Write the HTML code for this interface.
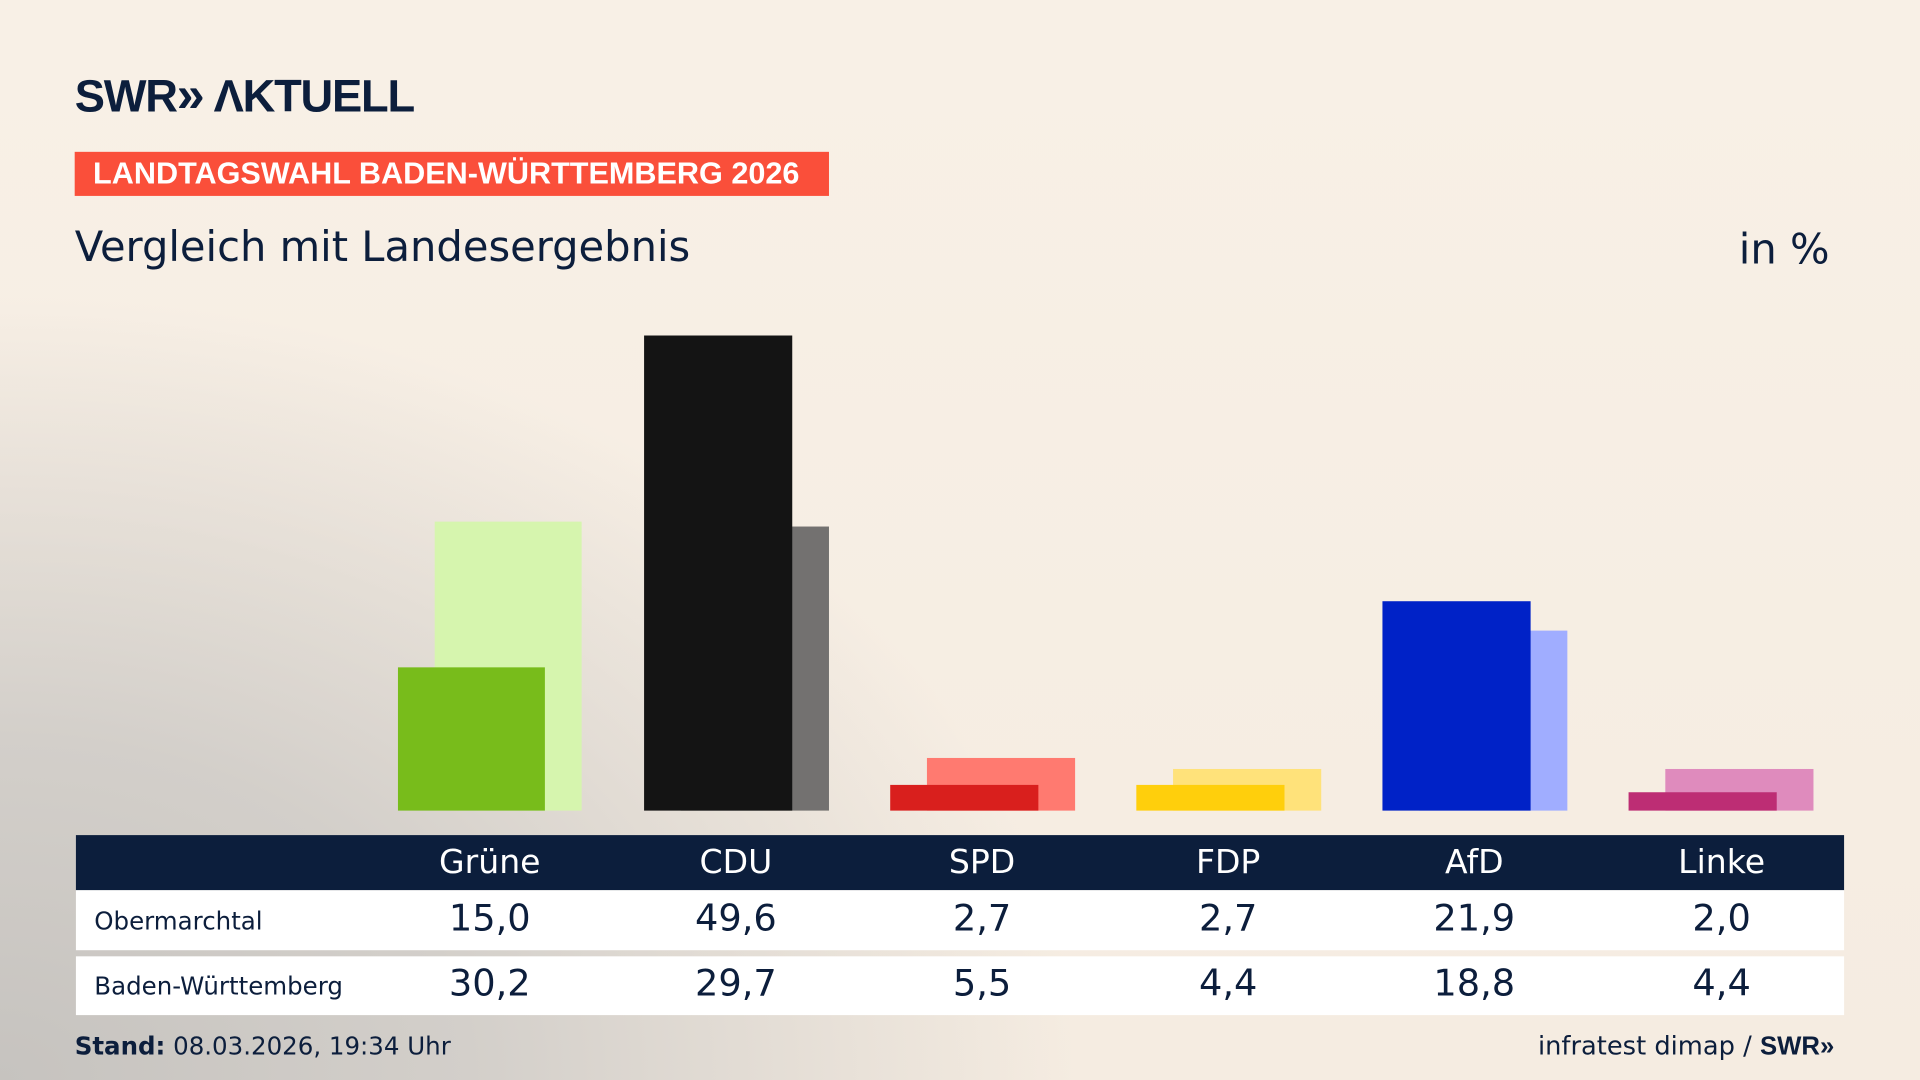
<!DOCTYPE html>
<html><head><meta charset="utf-8"><style>
html,body{margin:0;padding:0;width:1920px;height:1080px;overflow:hidden}
#s{position:absolute;left:0;top:0;width:1568px;height:882px;transform:scale(1.22449);transform-origin:0 0;
background:radial-gradient(ellipse 1100px 800px at 0% 100%,#c6c3bf 0%,#d3cfca 35%,rgba(240,232,222,0) 80%),linear-gradient(180deg,#f8f0e6 0%,#f5ece1 100%);
font-family:"DejaVu Sans","Liberation Sans",sans-serif;color:#0c1e3c;overflow:hidden}
.a{position:absolute}
.b{position:absolute;bottom:220px}
.th{position:absolute;top:0;height:45px;line-height:45px;color:#fff;font-size:27px;text-align:center;width:200px}
.v{position:absolute;font-size:30px;text-align:center;width:200px}
.rl{position:absolute;left:15px;font-size:20px}
</style></head><body><div id="s">
<div class="a" style="left:61px;top:54px;font-family:'Liberation Sans',sans-serif;font-weight:bold;font-size:37px;letter-spacing:-1px;white-space:nowrap">SWR<span style="font-size:41px;letter-spacing:-2px">»</span> ΛKTUELL</div>
<div class="a" style="left:61px;top:124px;width:616px;height:36px;background:#fa4f3a;color:#fff;font-weight:bold;font-family:'Liberation Sans',sans-serif;font-size:25px;line-height:37px;padding-left:15px;box-sizing:border-box;white-space:nowrap">LANDTAGSWAHL BADEN-WÜRTTEMBERG 2026</div>
<div class="a" style="left:61px;top:182px;font-size:34px">Vergleich mit Landesergebnis</div>
<div class="a" style="left:1420px;top:184px;font-size:34px">in %</div>

<div class="b" style="left:355px;width:120px;height:236px;background:#d6f5ae"></div>
<div class="b" style="left:325px;width:120px;height:117px;background:#78bc1b"></div>
<div class="b" style="left:556px;width:121px;height:232px;background:#737170"></div>
<div class="b" style="left:526px;width:121px;height:388px;background:#141414"></div>
<div class="b" style="left:757px;width:121px;height:43px;background:#ff7a70"></div>
<div class="b" style="left:727px;width:121px;height:21px;background:#d91f1d"></div>
<div class="b" style="left:958px;width:121px;height:34px;background:#ffe27a"></div>
<div class="b" style="left:928px;width:121px;height:21px;background:#ffcf0c"></div>
<div class="b" style="left:1159px;width:121px;height:147px;background:#a0adff"></div>
<div class="b" style="left:1129px;width:121px;height:171px;background:#0022c7"></div>
<div class="b" style="left:1360px;width:121px;height:34px;background:#df8bbd"></div>
<div class="b" style="left:1330px;width:121px;height:15px;background:#bd2d74"></div>

<div class="a" style="left:62px;top:682px;width:1444px;height:45px;background:#0c1e3c">
<div class="th" style="left:238px">Grüne</div><div class="th" style="left:439px">CDU</div><div class="th" style="left:640px">SPD</div><div class="th" style="left:841px">FDP</div><div class="th" style="left:1042px">AfD</div><div class="th" style="left:1244px">Linke</div></div>
<div class="a" style="left:62px;top:727px;width:1444px;height:49px;background:#fff">
<div class="rl" style="top:13px">Obermarchtal</div>
<div class="v" style="left:238px;top:6px">15,0</div><div class="v" style="left:439px;top:6px">49,6</div><div class="v" style="left:640px;top:6px">2,7</div><div class="v" style="left:841px;top:6px">2,7</div><div class="v" style="left:1042px;top:6px">21,9</div><div class="v" style="left:1244px;top:6px">2,0</div></div>
<div class="a" style="left:62px;top:781px;width:1444px;height:48px;background:#fff">
<div class="rl" style="top:12px">Baden-Württemberg</div>
<div class="v" style="left:238px;top:5px">30,2</div><div class="v" style="left:439px;top:5px">29,7</div><div class="v" style="left:640px;top:5px">5,5</div><div class="v" style="left:841px;top:5px">4,4</div><div class="v" style="left:1042px;top:5px">18,8</div><div class="v" style="left:1244px;top:5px">4,4</div></div>
<div class="a" style="left:61px;top:842px;font-size:20px"><b>Stand:</b> 08.03.2026, 19:34 Uhr</div>
<div class="a" style="left:1256px;top:842px;font-size:21px">infratest dimap / <b style="font-family:'Liberation Sans',sans-serif">SWR»</b></div>
</div></body></html>
